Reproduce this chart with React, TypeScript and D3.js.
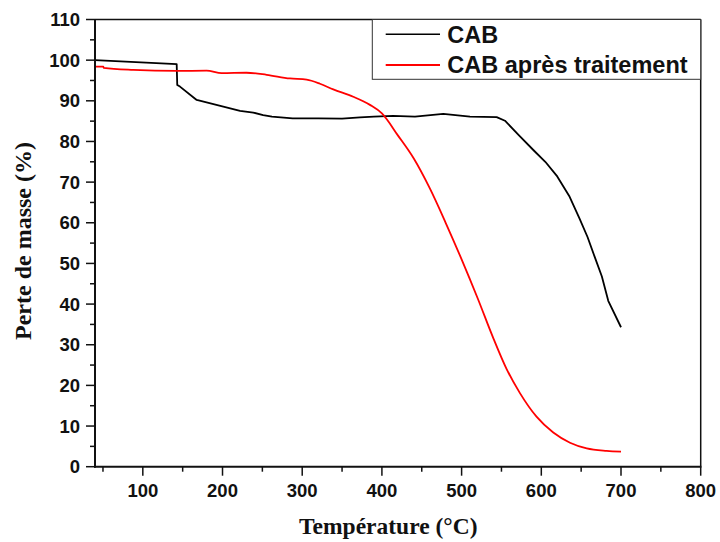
import React from "react";
import * as d3 from "d3";

// CAB (black)
const cabTemp = [40, 142.5, 143.2, 146.6, 167.6, 201, 222, 238.6, 251, 262, 288, 320, 350, 372.5, 390, 414, 441.5, 477, 510.5, 544, 554.4, 572, 590, 605, 620, 635, 648, 658, 667, 676, 684, 700];
const cabMass = [100, 99.0, 93.9, 93.5, 90.2, 88.6, 87.5, 87.1, 86.5, 86.1, 85.7, 85.7, 85.6, 85.9, 86.1, 86.3, 86.1, 86.8, 86.1, 86.0, 85.1, 81.5, 77.9, 75.0, 71.4, 66.6, 61.0, 56.5, 51.6, 46.8, 40.8, 34.3];

// CAB après traitement (red)
const treatedTemp = [40, 50.4, 51, 88, 142.5, 180, 199, 230, 255.4, 284.6, 305.6, 322.3, 339, 364, 385, 400, 420, 440, 460, 480, 500, 520, 540, 556.5, 573.2, 594, 615, 636, 657, 682, 700];
const treatedMass = [98.4, 98.4, 98.1, 97.6, 97.35, 97.4, 96.8, 96.9, 96.4, 95.5, 95.2, 94.2, 92.8, 91.0, 89.0, 86.9, 81.5, 75.8, 68.5, 60.0, 51.0, 41.5, 31.5, 24.0, 18.1, 12.3, 8.4, 5.9, 4.5, 3.9, 3.7];

const xTicks = [100, 200, 300, 400, 500, 600, 700, 800];
const xMinor = [50, 150, 250, 350, 450, 550, 650, 750];
const yTicks = [0, 10, 20, 30, 40, 50, 60, 70, 80, 90, 100, 110];
const yMinor = [5, 15, 25, 35, 45, 55, 65, 75, 85, 95, 105];

const seriesNames = ["CAB", "CAB après traitement"];
const seriesColors = ["#000000", "#ff0000"];

const W = 720, H = 542;
const L = 95, R = 700.7, T = 19.5, B = 466.7;

export default function App() {
  const x = d3.scaleLinear().domain([40, 800]).range([L, R]);
  const y = d3.scaleLinear().domain([0, 110]).range([B, T]);

  const cabData = cabTemp.map((t, i) => [t, cabMass[i]] as [number, number]);
  const trData = treatedTemp.map((t, i) => [t, treatedMass[i]] as [number, number]);

  const lineLin = d3.line<[number, number]>().x(d => x(d[0])).y(d => y(d[1]));
  const lineSmooth = d3.line<[number, number]>().x(d => x(d[0])).y(d => y(d[1])).curve(d3.curveMonotoneX);

  const sans = "'Liberation Sans', Arial, sans-serif";
  const serif = "'Liberation Serif', 'Times New Roman', serif";

  return (
    <svg width={W} height={H} style={{ position: "absolute", left: 0, top: 0, background: "#fff" }}>
      <rect x={0} y={0} width={W} height={H} fill="#fff" />
      {/* curves */}
      <path d={lineLin(cabData) || ""} fill="none" stroke={seriesColors[0]} strokeWidth={1.8} strokeLinejoin="round" />
      <path d={lineSmooth(trData) || ""} fill="none" stroke={seriesColors[1]} strokeWidth={1.8} strokeLinejoin="round" />

      {/* frame */}
      <line x1={L} x2={R} y1={T} y2={T} stroke="#111" strokeWidth={1.5} />
      <line x1={R} x2={R} y1={T} y2={B} stroke="#111" strokeWidth={1.5} />
      <line x1={L} x2={L} y1={T} y2={B + 1} stroke="#111" strokeWidth={2} />
      <line x1={L - 1} x2={R + 0.75} y1={B} y2={B} stroke="#111" strokeWidth={2} />

      {/* y ticks */}
      {yTicks.map(v => (
        <g key={"yt" + v}>
          <line x1={L - 9} x2={L} y1={y(v)} y2={y(v)} stroke="#111" strokeWidth={1.5} />
          <text x={L - 15} y={y(v)} dy="0.36em" textAnchor="end" fontFamily={sans} fontWeight="bold" fontSize={18.5} fill="#111">{v}</text>
        </g>
      ))}
      {yMinor.map(v => (
        <line key={"ym" + v} x1={L - 5} x2={L} y1={y(v)} y2={y(v)} stroke="#111" strokeWidth={1.5} />
      ))}

      {/* x ticks */}
      {xTicks.map(v => (
        <g key={"xt" + v}>
          <line x1={x(v)} x2={x(v)} y1={B} y2={B + 9} stroke="#111" strokeWidth={1.5} />
          <text x={x(v)} y={497} textAnchor="middle" fontFamily={sans} fontWeight="bold" fontSize={18.5} fill="#111">{v}</text>
        </g>
      ))}
      {xMinor.map(v => (
        <line key={"xm" + v} x1={x(v)} x2={x(v)} y1={B} y2={B + 5} stroke="#111" strokeWidth={1.5} />
      ))}

      {/* axis titles */}
      <text x={388.3} y={534.3} textAnchor="middle" fontFamily={serif} fontWeight="bold" fontSize={23.5} fill="#111">Température (°C)</text>
      <text transform={`translate(31,241) rotate(-90)`} textAnchor="middle" fontFamily={serif} fontWeight="bold" fontSize={24} fill="#111">Perte de masse (%)</text>

      {/* legend */}
      <rect x={372.3} y={T} width={R - 372.3} height={79.3 - T} fill="#fff" stroke="#333" strokeWidth={1} />
      <line x1={385.7} x2={440} y1={34.3} y2={34.3} stroke={seriesColors[0]} strokeWidth={1.5} />
      <line x1={385.7} x2={440} y1={65} y2={65} stroke={seriesColors[1]} strokeWidth={1.8} />
      <text x={447.3} y={43.3} fontFamily={sans} fontWeight="bold" fontSize={23.5} fill="#111">{seriesNames[0]}</text>
      <text x={447.3} y={73.3} fontFamily={sans} fontWeight="bold" fontSize={23.5} fill="#111">{seriesNames[1]}</text>
    </svg>
  );
}
